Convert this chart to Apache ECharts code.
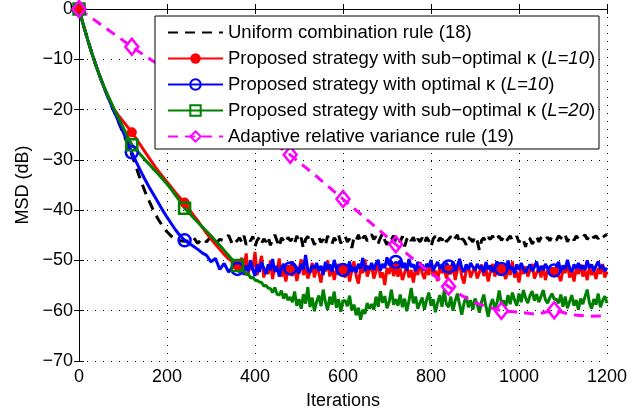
<!DOCTYPE html>
<html>
<head>
<meta charset="utf-8">
<script src="https://cdn.jsdelivr.net/npm/echarts@6/dist/echarts.min.js"></script>
<style>
html,body{margin:0;padding:0;background:#fff;}
#chart{width:644px;height:415px;}
</style>
</head>
<body>
<div id="chart"></div>
<script>
// ---- data ----
// sampling grid: every 10 iterations up to 360, every 5 iterations afterwards
const iterations = [].concat(
  Array.from({length: 37}, (_, i) => i * 10),
  Array.from({length: 168}, (_, i) => 365 + i * 5)
);

const uniformMsd = [
  0, -3.2, -6.2, -9.0, -11.6, -14.0, -16.3, -18.4, -20.4, -22.5, -24.6, -26.8, -29.0,
  -31.5, -34.0, -36.3, -38.3, -40.2, -41.8, -43.2, -44.3, -45.2, -45.8, -46.1, -46.2,
  -46.1, -45.4, -46.6, -45.6, -46.3, -45.2, -46.7, -45.8, -46.1, -45.0, -47.0, -46.0,
  -45.5, -46.4, -45.1, -46.9, -45.8, -46.1, -45.2, -47.2, -46.0, -45.4, -46.6, -45.7,
  -46.3, -45.2, -47.0, -45.8, -44.9, -46.1, -47.3, -45.5, -46.0, -46.6, -45.4, -46.1,
  -45.7, -46.7, -45.1, -46.3, -45.5, -47.6, -45.8, -45.2, -46.4, -45.7, -46.9, -46.0,
  -45.4, -46.4, -45.8, -47.0, -45.1, -46.0, -46.7, -45.5, -46.1, -44.9, -46.6, -45.8,
  -45.2, -46.3, -45.7, -47.5, -45.4, -46.0, -44.9, -46.4, -45.5, -45.1, -46.1, -45.7,
  -44.8, -45.8, -45.2, -46.6, -45.5, -44.6, -46.0, -46.9, -45.4, -45.8, -45.1, -46.1,
  -45.5, -46.4, -45.2, -47.2, -45.8, -45.1, -46.1, -45.4, -46.7, -45.7, -46.3, -45.5,
  -46.6, -45.4, -46.1, -47.3, -45.7, -45.2, -46.4, -45.5, -46.0, -45.1, -46.3, -45.8,
  -45.2, -46.1, -45.5, -44.9, -46.6, -45.7, -46.0, -46.9, -45.4, -45.8, -46.3, -45.2,
  -46.1, -48.0, -46.0, -45.5, -46.4, -45.4, -45.8, -45.1, -46.1, -45.5, -45.2, -46.0,
  -45.4, -46.3, -45.7, -45.1, -46.1, -45.8, -45.2, -46.4, -45.5, -46.0, -47.3, -45.4,
  -45.7, -46.7, -46.0, -45.2, -46.3, -45.5, -45.1, -45.8, -45.4, -46.1, -45.2, -45.7,
  -46.0, -45.1, -45.5, -45.8, -44.9, -46.3, -45.4, -45.2, -46.0, -45.1, -45.7, -45.2,
  -45.4, -44.9, -45.8, -45.2, -44.7, -45.5, -45.1, -45.7, -44.9, -45.4, -45.1, -44.8
];

const subOptL10Msd = [
  0, -3.2, -6.2, -9.0, -11.6, -14.0, -16.2, -18.2, -20.0, -21.2, -22.3, -23.4, -24.5,
  -25.8, -27.1, -28.4, -29.7, -31.0, -32.2, -33.3, -34.4, -35.5, -36.6, -37.6, -38.5,
  -39.8, -41.0, -42.1, -43.4, -44.6, -45.7, -46.8, -47.8, -48.8, -49.7, -50.4, -51.0,
  -50.5, -49.5, -51.7, -48.6, -52.5, -50.7, -51.9, -48.3, -52.9, -51.0, -49.1, -53.4,
  -51.5, -52.7, -50.0, -53.7, -51.2, -52.2, -49.6, -53.2, -51.7, -54.2, -52.0, -51.9,
  -53.1, -50.8, -54.1, -51.9, -49.8, -52.9, -51.4, -53.6, -52.4, -50.5, -53.4, -51.5,
  -52.5, -54.4, -51.2, -52.2, -50.0, -53.2, -51.0, -53.9, -51.9, -50.7, -52.9, -51.7,
  -53.4, -51.2, -54.2, -52.0, -50.2, -53.1, -54.6, -51.7, -52.5, -49.8, -53.2, -51.9,
  -51.0, -53.6, -52.2, -50.3, -53.4, -52.4, -54.9, -51.5, -52.7, -50.5, -53.1, -51.6,
  -53.2, -51.7, -53.9, -52.5, -50.7, -53.4, -51.9, -54.4, -51.4, -52.9, -50.3, -52.5,
  -53.7, -51.5, -52.9, -50.0, -53.1, -52.0, -54.1, -51.2, -52.5, -51.7, -53.6, -51.9,
  -52.7, -50.8, -53.9, -51.9, -50.5, -53.2, -54.6, -52.0, -51.0, -53.4, -52.2, -51.4,
  -53.6, -52.4, -50.8, -53.1, -51.7, -54.2, -52.2, -50.7, -53.2, -51.9, -52.9, -51.7,
  -52.5, -53.7, -51.5, -52.9, -50.2, -53.4, -52.2, -54.4, -51.4, -52.7, -51.2, -53.2,
  -51.9, -50.7, -53.6, -52.5, -51.5, -53.4, -51.0, -53.9, -52.0, -51.4, -53.2, -52.3,
  -51.2, -53.1, -54.1, -51.7, -52.5, -50.5, -53.4, -51.9, -54.2, -51.5, -52.7, -50.8,
  -53.2, -52.0, -53.9, -51.2, -52.9, -51.9, -53.7, -51.5, -52.7, -50.7, -53.4, -52.2
];

const optL10Msd = [
  0, -3.2, -6.2, -9.0, -11.6, -14.0, -16.3, -18.4, -20.4, -22.4, -24.4, -26.4, -28.5,
  -30.4, -32.2, -33.9, -35.5, -37.0, -38.5, -40.0, -41.4, -42.7, -44.0, -45.1, -46.0,
  -46.6, -47.2, -47.8, -48.5, -49.0, -50.3, -49.6, -51.8, -50.6, -52.3, -51.2, -51.7,
  -52.3, -50.5, -52.9, -51.0, -52.1, -50.0, -51.8, -53.1, -50.8, -52.3, -50.3, -51.6,
  -52.7, -50.8, -51.9, -49.7, -52.3, -51.1, -53.2, -51.5, -50.7, -52.1, -51.0, -51.6,
  -50.2, -52.3, -51.3, -52.6, -50.7, -51.8, -48.9, -51.9, -52.4, -51.0, -51.6, -50.5,
  -52.1, -51.1, -52.9, -50.3, -51.8, -50.8, -52.3, -49.9, -51.6, -52.7, -51.3, -51.9,
  -51.0, -51.9, -50.2, -52.3, -51.3, -52.4, -50.7, -51.6, -49.5, -52.1, -51.1, -51.8,
  -50.5, -51.9, -50.6, -49.9, -52.0, -50.7, -51.5, -49.4, -51.0, -50.2, -51.3, -50.3,
  -50.8, -50.0, -51.5, -50.5, -52.0, -49.7, -51.3, -50.8, -52.1, -50.3, -51.5, -50.8,
  -52.0, -50.7, -51.3, -49.9, -52.1, -51.1, -50.3, -51.6, -50.8, -52.3, -50.5, -51.2,
  -51.6, -50.2, -52.1, -51.0, -49.7, -51.5, -52.3, -50.8, -51.8, -50.5, -51.3, -51.9,
  -50.7, -51.6, -51.1, -52.4, -50.3, -51.8, -51.0, -52.3, -51.3, -50.2, -51.6, -51.7,
  -51.1, -52.3, -50.0, -51.8, -51.3, -52.6, -50.8, -51.9, -50.5, -51.6, -52.4, -51.5,
  -50.8, -52.1, -51.3, -50.2, -52.3, -51.1, -51.9, -50.7, -51.6, -52.6, -51.5, -52.0,
  -51.3, -50.3, -52.1, -51.0, -51.8, -49.9, -51.5, -52.3, -50.8, -51.6, -50.5, -51.8,
  -51.0, -51.9, -50.0, -51.5, -50.8, -52.1, -51.1, -50.2, -51.6, -51.0, -52.1, -51.5
];

const subOptL20Msd = [
  0, -3.2, -6.2, -9.0, -11.6, -14.0, -16.1, -18.0, -19.9, -21.7, -23.5, -25.3, -27.0,
  -28.0, -29.0, -30.0, -30.9, -31.9, -32.8, -33.8, -34.8, -35.9, -37.1, -38.3, -39.6,
  -40.5, -41.5, -42.4, -43.3, -44.2, -45.1, -46.1, -47.0, -48.0, -49.0, -50.0, -51.0,
  -51.4, -52.0, -52.1, -52.8, -52.7, -53.5, -53.3, -53.9, -54.0, -54.3, -54.4, -55.1,
  -55.0, -55.5, -55.6, -56.4, -55.4, -56.7, -56.9, -56.0, -57.6, -56.6, -57.9, -57.3,
  -58.3, -56.2, -59.0, -57.7, -59.6, -56.7, -58.6, -55.3, -59.3, -57.4, -60.1, -58.2,
  -57.0, -59.1, -55.8, -58.3, -59.8, -57.2, -58.8, -56.2, -59.4, -57.7, -60.2, -58.0,
  -58.0, -59.1, -57.0, -59.9, -58.8, -60.9, -59.4, -61.8, -59.8, -60.6, -58.5, -59.6,
  -58.7, -59.8, -57.2, -59.2, -56.1, -58.4, -57.1, -59.5, -58.2, -55.8, -58.8, -57.7,
  -59.0, -56.8, -59.3, -57.6, -60.1, -58.0, -55.5, -58.5, -57.2, -59.6, -58.4, -57.4,
  -59.8, -57.9, -56.4, -59.0, -57.7, -60.3, -58.4, -56.9, -59.2, -55.9, -58.7, -59.3,
  -57.2, -60.0, -58.0, -56.6, -58.8, -60.8, -58.5, -57.1, -59.3, -57.9, -59.8, -57.6,
  -58.7, -60.4, -58.2, -56.8, -59.2, -61.2, -58.8, -57.7, -59.5, -58.4, -56.0, -58.5,
  -58.0, -59.1, -56.9, -58.7, -56.4, -57.9, -59.0, -56.6, -58.3, -55.9, -57.5, -58.5,
  -57.0, -56.1, -58.0, -56.7, -58.3, -57.2, -55.9, -57.8, -58.5, -57.4, -56.6, -57.7,
  -57.7, -58.5, -56.8, -59.2, -57.2, -59.5, -58.2, -56.9, -59.0, -57.9, -59.8, -57.6,
  -58.7, -57.2, -55.8, -58.4, -59.6, -57.7, -58.8, -56.6, -59.3, -58.0, -57.1, -58.5
];

const adaptiveIters = [0, 40, 80, 120, 160, 200, 240, 280, 320, 360, 400, 440, 480, 540, 600, 660, 720, 780, 840, 870, 900, 930, 960, 1000, 1040, 1080, 1120, 1160, 1200];
const adaptiveMsd = [0, -2.5, -5.0, -7.5, -9.9, -12.2, -14.5, -16.9, -19.3, -21.7, -24.1, -26.5, -29.0, -33.3, -37.8, -42.3, -46.8, -51.2, -55.2, -57.0, -58.4, -59.3, -60.0, -60.3, -60.7, -59.9, -60.8, -61.1, -61.0];

const seriesNames = [
  'Uniform combination rule (18)',
  'Proposed strategy with sub\u2212optimal \u03ba (L=10)',
  'Proposed strategy with optimal \u03ba (L=10)',
  'Proposed strategy with sub\u2212optimal \u03ba (L=20)',
  'Adaptive relative variance rule (19)'
];

const xTicks = {min: 0, max: 1200, interval: 200};
const yTicks = {min: -70, max: 0, interval: 10};
const markerEvery = 120;

// ---- build ----
const FONT = 'Liberation Sans, Arial, Helvetica, sans-serif';
function pairs(xs, ys, lastMarker) {
  return xs.map((x, i) => (x % markerEvery === 0 && x <= lastMarker)
    ? [x, ys[i]]
    : {value: [x, ys[i]], symbol: 'none'});
}

const chart = echarts.init(document.getElementById('chart'), null, {renderer: 'canvas'});

const axisCommon = {
  axisLine: {show: true, lineStyle: {color: '#000', width: 1}},
  axisTick: {show: true, inside: true, length: 5, lineStyle: {color: '#000', width: 1}}
};
const minusFmt = v => (v < 0 ? '\u2212' + Math.abs(v) : String(v));

const option = {
  animation: false,
  backgroundColor: '#fff',
  grid: {left: 79, right: 37, top: 8, bottom: 51, containLabel: false},
  xAxis: [
    Object.assign({
      type: 'value', min: xTicks.min, max: xTicks.max, interval: xTicks.interval,
      position: 'bottom',
      axisLabel: {color: '#000', fontSize: 18, fontFamily: FONT, margin: 7, formatter: v => String(v)},
      splitLine: {show: true, lineStyle: {color: '#000', width: 1, type: [1, 7]}},
      name: 'Iterations', nameLocation: 'middle', nameGap: 31,
      nameTextStyle: {color: '#000', fontSize: 18, fontFamily: FONT}
    }, axisCommon),
    Object.assign({
      type: 'value', min: xTicks.min, max: xTicks.max, interval: xTicks.interval,
      position: 'top', axisLabel: {show: false}, splitLine: {show: false}
    }, axisCommon)
  ],
  yAxis: [
    Object.assign({
      type: 'value', min: yTicks.min, max: yTicks.max, interval: yTicks.interval,
      position: 'left',
      axisLabel: {color: '#000', fontSize: 18, fontFamily: FONT, margin: 6, formatter: minusFmt},
      splitLine: {show: true, lineStyle: {color: '#000', width: 1, type: [1, 7]}},
      name: 'MSD (dB)', nameLocation: 'middle', nameGap: 46,
      nameTextStyle: {color: '#000', fontSize: 18, fontFamily: FONT}
    }, axisCommon),
    Object.assign({
      type: 'value', min: yTicks.min, max: yTicks.max, interval: yTicks.interval,
      position: 'right', axisLabel: {show: false}, splitLine: {show: false}
    }, axisCommon)
  ],
  legend: {
    orient: 'vertical', left: 155, top: 16,
    padding: [7, 3, 3, 12], itemGap: 7, itemWidth: 55, itemHeight: 13,
    backgroundColor: '#fff', borderColor: '#000', borderWidth: 1, borderRadius: 0,
    data: seriesNames,
    formatter: name => name.replace(/\((L=\d+)\)/, '({i|$1})'),
    textStyle: {
      color: '#000', fontSize: 18.5, fontFamily: FONT, lineHeight: 18, width: 368, overflow: 'none',
      rich: {i: {fontStyle: 'italic', fontSize: 18.5, fontFamily: FONT, color: '#000'}}
    }
  },
  series: [
    {
      name: seriesNames[0], type: 'line',
      data: pairs(iterations, uniformMsd, -1), symbol: 'circle', showSymbol: false,
      lineStyle: {color: '#000', width: 3, type: [10, 7]},
      itemStyle: {color: 'rgba(0,0,0,0)', borderWidth: 0}
    },
    {
      name: seriesNames[1], type: 'line', data: pairs(iterations, subOptL10Msd, 1199),
      symbol: 'circle', symbolSize: 10, showSymbol: true, showAllSymbol: true,
      lineStyle: {color: '#ff0000', width: 3}, itemStyle: {color: '#ff0000'}
    },
    {
      name: seriesNames[2], type: 'line', data: pairs(iterations, optL10Msd, 1199),
      symbol: 'circle', symbolSize: 12, showSymbol: true, showAllSymbol: true,
      lineStyle: {color: '#0000ff', width: 3},
      itemStyle: {color: 'rgba(0,0,0,0)', borderColor: '#0000ff', borderWidth: 2.5}
    },
    {
      name: seriesNames[3], type: 'line', data: pairs(iterations, subOptL20Msd, 360),
      symbol: 'rect', symbolSize: 11, showSymbol: true, showAllSymbol: true,
      lineStyle: {color: '#008000', width: 3},
      itemStyle: {color: 'rgba(0,0,0,0)', borderColor: '#008000', borderWidth: 2.5}
    },
    {
      name: seriesNames[4], type: 'line', data: pairs(adaptiveIters, adaptiveMsd, 1199),
      symbol: 'diamond', symbolSize: [13, 16], showSymbol: true, showAllSymbol: true,
      lineStyle: {color: '#ff00ff', width: 3, type: [10, 7]},
      itemStyle: {color: 'rgba(0,0,0,0)', borderColor: '#ff00ff', borderWidth: 2.5}
    }
  ]
};
chart.setOption(option);
</script>
</body>
</html>
